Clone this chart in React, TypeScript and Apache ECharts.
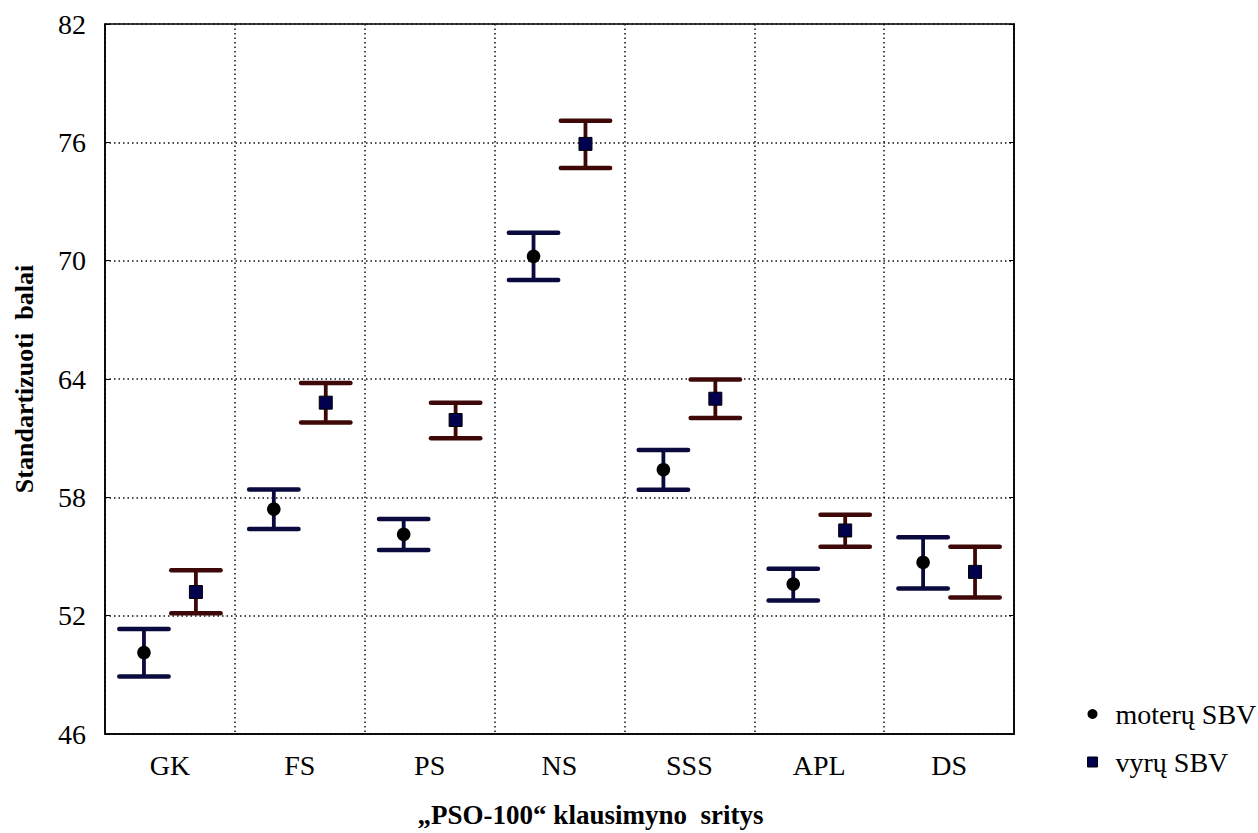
import React, { useEffect, useRef } from "react";
import * as echarts from "echarts";

const categories = ["GK", "FS", "PS", "NS", "SSS", "APL", "DS"];
const seriesNames = ["moterų SBV", "vyrų SBV"];
const moteruMean = [50.13, 57.4, 56.12, 70.22, 59.4, 53.6, 54.7];
const moteruLow = [48.92, 56.4, 55.33, 69.02, 58.38, 52.77, 53.38];
const moteruHigh = [51.32, 58.4, 56.9, 71.42, 60.4, 54.38, 55.98];
const vyruMean = [53.2, 62.8, 61.92, 75.92, 63.0, 56.32, 54.22];
const vyruLow = [52.12, 61.8, 61.0, 74.7, 62.02, 55.5, 52.92];
const vyruHigh = [54.3, 63.8, 62.8, 77.1, 63.98, 57.12, 55.5];
const yTickLabels = ["46", "52", "58", "64", "70", "76", "82"];
const Y_MIN = 46;
const Y_MAX = 82;
const Y_STEP = 6;
const xTitle = "„PSO-100“ klausimyno  sritys";
const yTitle = "Standartizuoti  balai";

const FONT = "'Liberation Serif', 'Times New Roman', serif";
const NAVY_BAR = "#0a0a3e";
const MAROON_BAR = "#3e0808";
const SQUARE_FILL = "#00004e";

function buildData(mean: number[], low: number[], high: number[]) {
  return categories.map((_, i) => [i, mean[i] - Y_MIN, low[i] - Y_MIN, high[i] - Y_MIN]);
}

function makeRenderItem(side: number, barColor: string, kind: "circle" | "square") {
  return (params: any, api: any) => {
    const idx = api.value(0);
    const band = api.size([1, 0])[0];
    const off = side * 0.2 * band;
    const half = 0.19 * band;
    const pMean = api.coord([idx, api.value(1)]);
    const pLow = api.coord([idx, api.value(2)]);
    const pHigh = api.coord([idx, api.value(3)]);
    const x = pMean[0] + off;
    const children: any[] = [
      {
        type: "line",
        shape: { x1: x, y1: pLow[1], x2: x, y2: pHigh[1] },
        style: { stroke: barColor, lineWidth: 3.8 },
      },
      {
        type: "line",
        shape: { x1: x - half, y1: pHigh[1], x2: x + half, y2: pHigh[1] },
        style: { stroke: barColor, lineWidth: 4.5, lineCap: "round" },
      },
      {
        type: "line",
        shape: { x1: x - half, y1: pLow[1], x2: x + half, y2: pLow[1] },
        style: { stroke: barColor, lineWidth: 4.5, lineCap: "round" },
      },
    ];
    if (kind === "circle") {
      children.push({
        type: "circle",
        shape: { cx: x, cy: pMean[1], r: 6.8 },
        style: { fill: "#000" },
      });
    } else {
      children.push({
        type: "rect",
        shape: { x: x - 6.5, y: pMean[1] - 6.5, width: 13, height: 13 },
        style: { fill: SQUARE_FILL, stroke: "#000", lineWidth: 1 },
      });
    }
    return { type: "group", children };
  };
}

export default function App() {
  const ref = useRef<HTMLDivElement>(null);
  useEffect(() => {
    if (!ref.current) return;
    const chart = echarts.init(ref.current, undefined, { renderer: "svg" });
    const dotted = { color: "#111", width: 1.5, type: [1.5, 3] as any };
    const option: any = {
      animation: false,
      backgroundColor: "#fff",
      textStyle: { fontFamily: FONT, color: "#000" },
      grid: {
        left: 105,
        top: 24,
        width: 909,
        height: 719,
        show: true,
        borderColor: "#000",
        borderWidth: 1.5,
        backgroundColor: "transparent",
      },
      legend: {
        orient: "vertical",
        left: 1082,
        top: 694,
        itemWidth: 10,
        itemHeight: 10,
        itemGap: 18,
        textStyle: {
          fontFamily: FONT,
          fontSize: 28,
          color: "#000",
          lineHeight: 30,
          padding: [0, 0, 0, 13],
        },
        data: [
          { name: seriesNames[0], icon: "circle", itemStyle: { color: "#000" } },
          {
            name: seriesNames[1],
            icon: "rect",
            itemStyle: { color: SQUARE_FILL, borderColor: "#000", borderWidth: 1 },
          },
        ],
      },
      xAxis: {
        type: "category",
        data: categories,
        boundaryGap: true,
        name: xTitle,
        nameLocation: "middle",
        nameGap: 67,
        nameTextStyle: {
          fontFamily: FONT,
          fontSize: 27,
          fontWeight: "bold",
          color: "#000",
          padding: [0, 0, 0, 62],
        },
        axisLine: { lineStyle: { color: "#000", width: 1.5 } },
        axisTick: { inside: true, length: 5, lineStyle: { color: "#000" } },
        axisLabel: { fontFamily: FONT, fontSize: 28, color: "#000", margin: 17 },
        splitLine: { show: true, lineStyle: dotted },
      },
      yAxis: [
        {
          type: "value",
          min: 0,
          max: Y_MAX - Y_MIN,
          interval: Y_STEP,
          name: yTitle,
          nameLocation: "middle",
          nameGap: 68,
          nameTextStyle: {
            fontFamily: FONT,
            fontSize: 26,
            fontWeight: "bold",
            color: "#000",
          },
          axisLine: { show: true, lineStyle: { color: "#000", width: 1.5 } },
          axisTick: { show: true, inside: true, length: 5, lineStyle: { color: "#000" } },
          axisLabel: {
            fontFamily: FONT,
            fontSize: 28,
            color: "#000",
            margin: 19,
            formatter: (v: number) => yTickLabels[Math.round(v / Y_STEP)] ?? String(v + Y_MIN),
          },
          splitLine: { show: true, lineStyle: dotted },
        },
        {
          type: "value",
          position: "right",
          min: 0,
          max: Y_MAX - Y_MIN,
          interval: Y_STEP,
          axisLine: { show: true, lineStyle: { color: "#000", width: 1.5 } },
          axisTick: { show: true, inside: true, length: 5, lineStyle: { color: "#000" } },
          axisLabel: { show: false },
          splitLine: { show: false },
        },
      ],
      series: [
        {
          name: seriesNames[0],
          type: "custom",
          itemStyle: { color: "#000" },
          encode: { x: 0, y: [1, 2, 3] },
          renderItem: makeRenderItem(-1, NAVY_BAR, "circle"),
          data: buildData(moteruMean, moteruLow, moteruHigh),
          z: 3,
        },
        {
          name: seriesNames[1],
          type: "custom",
          itemStyle: { color: SQUARE_FILL },
          encode: { x: 0, y: [1, 2, 3] },
          renderItem: makeRenderItem(1, MAROON_BAR, "square"),
          data: buildData(vyruMean, vyruLow, vyruHigh),
          z: 3,
        },
      ],
    };
    chart.setOption(option);
    return () => chart.dispose();
  }, []);
  return (
    <div
      ref={ref}
      style={{ position: "fixed", left: 0, top: 0, width: 1258, height: 833, background: "#fff" }}
    />
  );
}
